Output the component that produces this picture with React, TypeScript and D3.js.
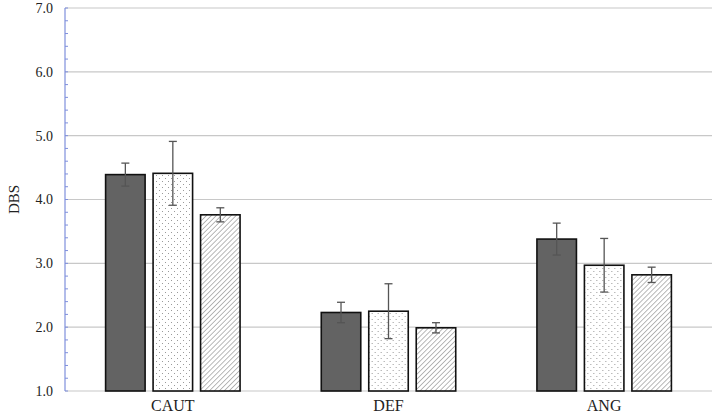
import React from "react";
import * as d3 from "d3";

const categories = ["CAUT", "DEF", "ANG"];
const series = ["s1", "s2", "s3"];
// mean values per category, one array per series
const darkValues = [4.39, 2.23, 3.38];
const dottedValues = [4.41, 2.25, 2.97];
const hatchedValues = [3.76, 1.99, 2.82];
// error bar half-widths
const darkErr = [0.18, 0.16, 0.25];
const dottedErr = [0.5, 0.43, 0.42];
const hatchedErr = [0.11, 0.08, 0.12];
const yTicks = [1, 2, 3, 4, 5, 6, 7];

const W = 718;
const H = 419;
const margin = { top: 8, right: 6, bottom: 28, left: 65 };
const FONT = "'Times New Roman', 'Liberation Serif', 'DejaVu Serif', serif";

const App = () => {
  const x0 = d3
    .scaleBand<string>()
    .domain(categories)
    .range([margin.left, W - margin.right])
    .paddingInner(0)
    .paddingOuter(0);
  const x1 = d3
    .scaleBand<string>()
    .domain(series)
    .range([0, x0.bandwidth()])
    .paddingInner(0.168)
    .paddingOuter(0.855);
  const y = d3.scaleLinear().domain([1, 7]).range([H - margin.bottom, margin.top]);

  const vals = [darkValues, dottedValues, hatchedValues];
  const errs = [darkErr, dottedErr, hatchedErr];
  const fills = ["#636363", "url(#dots)", "url(#hatch)"];
  const minor = d3.range(1, 7.001, 0.2);

  return (
    <div style={{ position: "absolute", left: 0, top: 0 }}>
      <svg width={W} height={H}>
        <defs>
          <pattern id="dots" width={6} height={6} patternUnits="userSpaceOnUse">
            <rect width={6} height={6} fill="#fff" />
            <rect x={1} y={1} width={1} height={1} fill="#9a9a9a" />
            <rect x={4} y={4} width={1} height={1} fill="#9a9a9a" />
          </pattern>
          <pattern
            id="hatch"
            width={3.5}
            height={3.5}
            patternUnits="userSpaceOnUse"
            patternTransform="rotate(45)"
          >
            <rect width={3.5} height={3.5} fill="#fff" />
            <line x1={0} y1={0} x2={0} y2={3.5} stroke="#8a8a8a" strokeWidth={1.2} />
          </pattern>
        </defs>
        <rect width={W} height={H} fill="#fff" />
        {yTicks.map((t) => (
          <g key={t}>
            <line
              x1={margin.left}
              x2={W - margin.right}
              y1={y(t)}
              y2={y(t)}
              stroke="#c8c8c8"
              strokeWidth={1.2}
            />
            <text x={53} y={y(t)} dy="0.35em" textAnchor="end" fontSize={14} fontFamily={FONT} fill="#222">
              {t.toFixed(1)}
            </text>
          </g>
        ))}
        {minor.map((t, i) => (
          <line
            key={i}
            x1={margin.left}
            x2={margin.left + 3}
            y1={y(t)}
            y2={y(t)}
            stroke="#7f8fdc"
            strokeWidth={1}
          />
        ))}
        <line
          x1={margin.left}
          x2={margin.left}
          y1={y(7)}
          y2={y(1)}
          stroke="#7f8fdc"
          strokeWidth={1.2}
        />
        {categories.map((c, ci) => (
          <g key={c} transform={`translate(${x0(c)},0)`}>
            {series.map((s, si) => {
              const v = vals[si][ci];
              const e = errs[si][ci];
              const bx = x1(s) as number;
              const cx = bx + x1.bandwidth() / 2;
              return (
                <g key={s}>
                  <rect
                    x={bx}
                    y={y(v)}
                    width={x1.bandwidth()}
                    height={y(1) - y(v)}
                    fill={fills[si]}
                    stroke="#111"
                    strokeWidth={1.6}
                  />
                  <line x1={cx} x2={cx} y1={y(v + e)} y2={y(v - e)} stroke="#555" strokeWidth={1.3} />
                  <line x1={cx - 4} x2={cx + 4} y1={y(v + e)} y2={y(v + e)} stroke="#555" strokeWidth={1.3} />
                  <line x1={cx - 4} x2={cx + 4} y1={y(v - e)} y2={y(v - e)} stroke="#555" strokeWidth={1.3} />
                </g>
              );
            })}
            <text
              x={x0.bandwidth() / 2}
              y={H - 8}
              textAnchor="middle"
              fontSize={16}
              fontFamily={FONT}
              fill="#222"
            >
              {c}
            </text>
          </g>
        ))}
        <text
          transform={`translate(19,${(y(7) + y(1)) / 2}) rotate(-90)`}
          textAnchor="middle"
          fontSize={15}
          fontFamily={FONT}
          fill="#222"
        >
          DBS
        </text>
      </svg>
    </div>
  );
};

export default App;
